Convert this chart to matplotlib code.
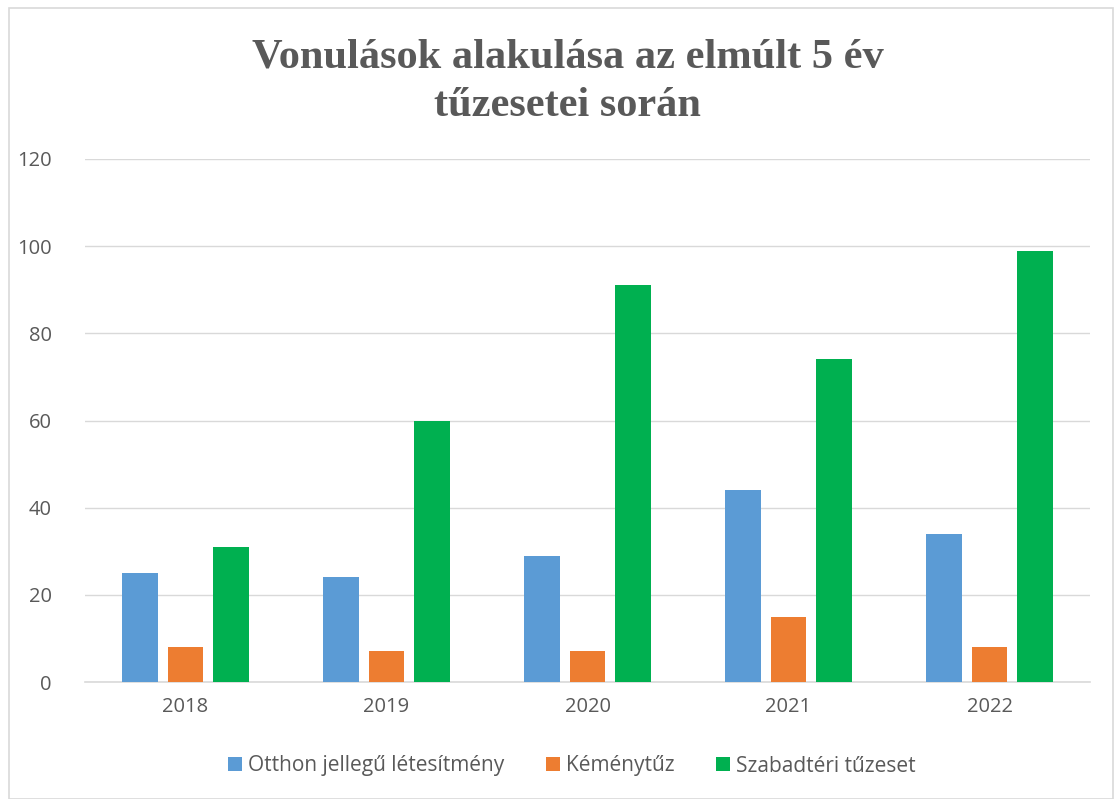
import numpy as np
import matplotlib
matplotlib.use('Agg')
from matplotlib import pyplot as plt
from matplotlib.patches import Rectangle

years = ['2018', '2019', '2020', '2021', '2022']
otthon = [25, 24, 29, 44, 34]
kemeny = [8, 7, 7, 15, 8]
szabad = [31, 60, 91, 74, 99]
labels = ['Otthon jellegű létesítmény', 'Kéménytűz', 'Szabadtéri tűzeset']
colors = ['#5B9BD5', '#ED7D31', '#00B050']

plt.rcParams['font.family'] = ['Open Sans', 'DejaVu Sans']
txt = '#595959'

fig = plt.figure(figsize=(11.15, 7.99), dpi=100)
fig.patches.append(Rectangle((9/1115, 0), 1104/1115, 1 - 8/799, transform=fig.transFigure,
                             fill=False, edgecolor='#d9d9d9', linewidth=1.2))
ax = fig.add_axes([85/1115, 1 - 682/799, 1005/1115, 523/799])

x = np.arange(len(years))
w = 0.179
step = 0.224
for i, (vals, lab, c) in enumerate(zip([otthon, kemeny, szabad], labels, colors)):
    ax.bar(x + (i - 1) * step, vals, w, color=c, label=lab, zorder=3)

ax.set_xlim(-0.5, 4.5)
ax.set_ylim(0, 120)
ax.set_yticks(range(0, 121, 20))
ax.set_xticks(x)
ax.set_xticklabels(years)
ax.grid(axis='y', color='#d9d9d9', linewidth=1, zorder=0)
for s in ['top', 'right', 'left']:
    ax.spines[s].set_visible(False)
ax.spines['bottom'].set_color('#d9d9d9')
ax.spines['bottom'].set_linewidth(1.2)
ax.tick_params(length=0, labelsize=14.5, colors=txt)
ax.tick_params(axis='y', pad=24)
ax.tick_params(axis='x', pad=11)

fig.text(0.509, 1 - 82/799, 'Vonulások alakulása az elmúlt 5 év\ntűzesetei során',
         ha='center', va='center', fontsize=30.5, fontweight='bold', color=txt,
         family=['Liberation Serif', 'DejaVu Serif'], linespacing=1.35)

leg = fig.legend(loc='center', bbox_to_anchor=(0.513, 1 - 766/799), ncol=3, frameon=False,
                 fontsize=15, handlelength=0.65, handleheight=0.65, handletextpad=0.3,
                 columnspacing=2.0)
for t in leg.get_texts():
    t.set_color(txt)

fig.savefig('out.png', dpi=100)
